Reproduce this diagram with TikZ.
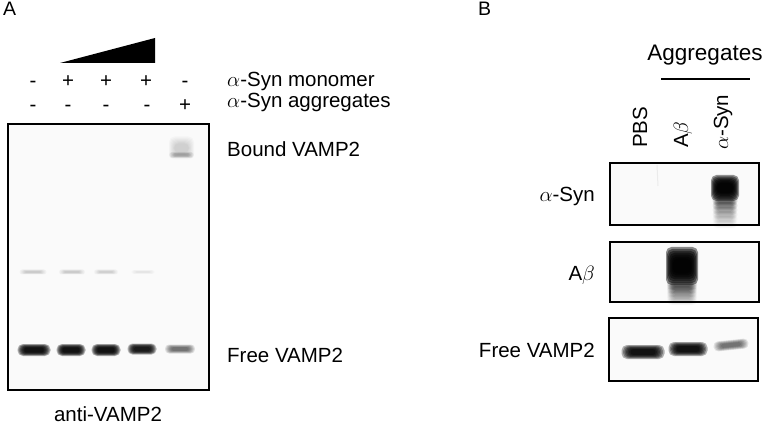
\documentclass[tikz,border=0pt]{standalone}
\usepackage{fontspec}
\setmainfont{Liberation Sans}
\usepackage{tikz}

% soft band: centre x, centre y, width, height, opacity of one layer
\newcommand{\smear}[5]{%
	\foreach \k in {0,...,6}{
		\pgfmathsetmacro{\bw}{#3*(1-0.07*\k)/2}
		\pgfmathsetmacro{\bh}{#4*(1-0.1*\k)/2}
		\pgfmathsetmacro{\br}{min(min(\bw,\bh),6)*0.9}
		\fill[black, opacity=#5, rounded corners=\br pt] (#1-\bw,#2-\bh) rectangle (#1+\bw,#2+\bh);
	}}

\begin{document}
\begin{tikzpicture}[x=1pt, y=-1pt,
	lbl/.style={font=\fontsize{20.5}{24}\selectfont, inner sep=0pt},
	big/.style={font=\fontsize{22.5}{26}\selectfont, inner sep=0pt},
	panel/.style={font=\fontsize{19.5}{22}\selectfont, inner sep=0pt},
	gel/.style={draw=black, line width=1.6pt, fill=black!2, inner sep=0pt}]
	\useasboundingbox (0,0) rectangle (764,425);
	
	% panel A
	\node[panel, anchor=base west] (pA) at (3,16) {A};
	\fill (60,63) -- (155,38) -- (155,63) -- cycle;
	
	\foreach \x/\s [count=\i] in {33/-,68/+,106/+,146/+,185/-}
		\node[lbl, anchor=base] (mono\i) at (\x,88) {\s};
	\foreach \x/\s [count=\i] in {33/-,68/-,106/-,147/-,185/+}
		\node[lbl, anchor=base] (aggr\i) at (\x,112) {\s};
	\node[lbl, anchor=base west] (monoLbl) at (227,87) {$\alpha$-Syn monomer};
	\node[lbl, anchor=base west] (aggrLbl) at (227,108) {$\alpha$-Syn aggregates};
	
	\node[gel, minimum width=201pt, minimum height=266pt] (gelA) at (108.5,257) {};
	
	\smear{181.5}{148}{25}{23}{0.025}
	\smear{181.5}{155}{25}{6}{0.045}
	
	\smear{33}{272}{27}{5}{0.028}
	\smear{72}{272}{26}{5}{0.028}
	\smear{106}{272}{24}{5}{0.024}
	\smear{143}{272}{24}{4}{0.012}
	
	\smear{34}{350}{33}{12}{0.3}
	\smear{71}{350}{29}{12}{0.3}
	\smear{106}{350}{29}{12}{0.3}
	\smear{142}{349}{29}{11}{0.27}
	\smear{180}{349}{30}{9}{0.1}
	
	\node[lbl, anchor=base west] (boundLbl) at (227,157) {Bound VAMP2};
	\node[lbl, anchor=base west] (freeLbl) at (227,362) {Free VAMP2};
	\node[lbl, anchor=base] (antiLbl) at (108,421) {anti-VAMP2};
	
	% panel B
	\node[panel, anchor=base west] (pB) at (478,16) {B};
	\node[big, anchor=base] (aggTitle) at (705,61) {Aggregates};
	\coordinate (aggL) at (661,79);
	\coordinate (aggR) at (750,79);
	\draw[line width=1.8pt] (aggL) -- (aggR);
	
	\node[lbl, rotate=90, anchor=base west] (lanePBS) at (647,148) {PBS};
	\node[lbl, rotate=90, anchor=base west] (laneAb) at (688,148) {A$\beta$};
	\node[lbl, rotate=90, anchor=base west] (laneSyn) at (728,150) {$\alpha$-Syn};
	
	\node[gel, minimum width=149pt, minimum height=62pt] (blotSyn) at (684.5,194) {};
	\node[gel, minimum width=149pt, minimum height=60pt] (blotAb) at (684.5,272) {};
	\node[gel, minimum width=149pt, minimum height=63pt] (blotFree) at (683.5,349.5) {};
	
	\draw[black!8, line width=1pt] (657,165) -- (658,186);
	\foreach \j/\o in {0/0.09,1/0.065,2/0.045,3/0.03,4/0.02,5/0.012}{
		\smear{725}{201+4.5*\j}{25}{10}{\o}
	}
	\smear{725}{188}{28}{26}{0.42}
	
	\foreach \j/\o in {0/0.09,1/0.065,2/0.045,3/0.03,4/0.02}{
		\smear{682}{285+3.8*\j}{30}{10}{\o}
	}
	\smear{682}{266}{32}{38}{0.45}
	
	\smear{643}{352}{43}{14}{0.3}
	\smear{688}{349}{39}{14}{0.3}
	\begin{scope}[rotate around={6:(731,345)}]
		\smear{731}{345}{35}{10}{0.1}
	\end{scope}
	
	\node[lbl, anchor=base east] (synLbl) at (595,202) {$\alpha$-Syn};
	\node[lbl, anchor=base east] (abLbl) at (595,280) {A$\beta$};
	\node[lbl, anchor=base east] (freeBLbl) at (595,357) {Free VAMP2};
	
\end{tikzpicture}
\end{document}
